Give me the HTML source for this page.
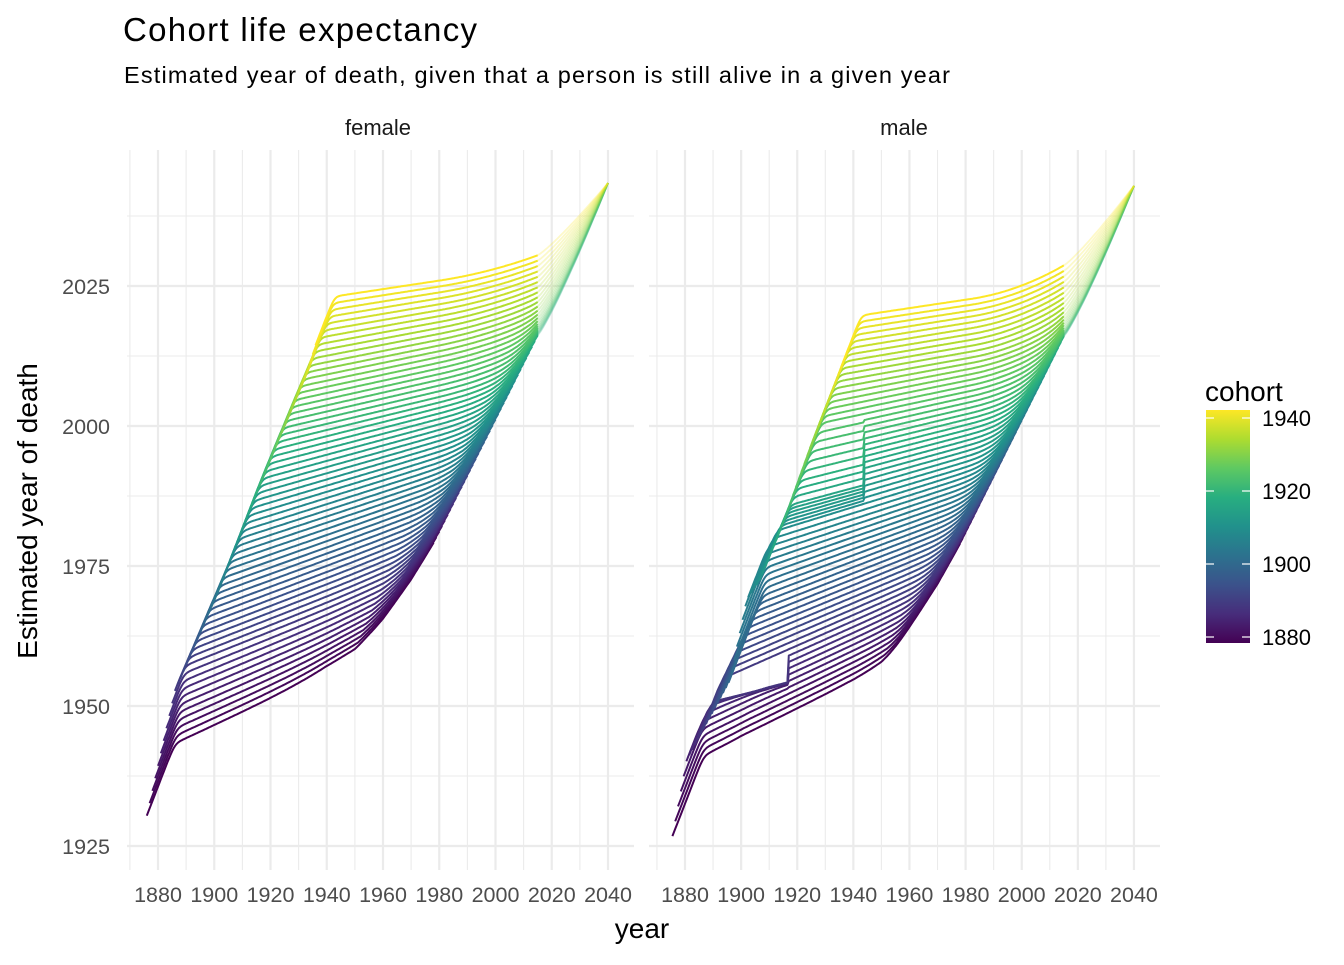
<!DOCTYPE html>
<html><head><meta charset="utf-8">
<style>
html,body{margin:0;padding:0;background:#fff;}
svg text{font-family:"Liberation Sans",Arial,sans-serif;}
</style></head>
<body>
<svg id="chart" width="1344" height="960" viewBox="0 0 1344 960" xmlns="http://www.w3.org/2000/svg">
  <rect width="1344" height="960" fill="#fff"/>
  <text x="123" y="41" font-size="33" fill="#000" textLength="354">Cohort life expectancy</text>
  <text x="124" y="83" font-size="23.5" fill="#000" textLength="826">Estimated year of death, given that a person is still alive in a given year</text>
  <text x="378" y="135" font-size="22" fill="#1a1a1a" text-anchor="middle">female</text>
  <text x="904" y="135" font-size="22" fill="#1a1a1a" text-anchor="middle">male</text>
  <g id="grid"></g>
  <g id="yticks"></g>
  <g id="xticks"></g>
  <g id="series"></g>
  <text x="642" y="938" font-size="28" fill="#000" text-anchor="middle">year</text>
  <text transform="translate(37,511) rotate(-90)" font-size="28" fill="#000" text-anchor="middle">Estimated year of death</text>
  <g>
    <text x="1205" y="401" font-size="28" fill="#000">cohort</text>
    <defs>
      <linearGradient id="vir" x1="0" y1="1" x2="0" y2="0">
        <stop offset="0" stop-color="#440154"/><stop offset="0.125" stop-color="#472D7B"/>
        <stop offset="0.25" stop-color="#3B528B"/><stop offset="0.375" stop-color="#2C728E"/>
        <stop offset="0.5" stop-color="#21918C"/><stop offset="0.625" stop-color="#28AE80"/>
        <stop offset="0.75" stop-color="#5EC962"/><stop offset="0.875" stop-color="#ADDC30"/>
        <stop offset="1" stop-color="#FDE725"/>
      </linearGradient>
    </defs>
    <rect x="1206" y="410" width="44" height="233" fill="url(#vir)"/>
    <g id="legendticks"></g>
  </g>
</svg>
<script>
// ---- data ----
const cohortFirst = 1880;
const cohortLast = 1940;
const anchorCohorts = [1880, 1890, 1900, 1910, 1920, 1930, 1940];
const femaleLevel = [1956, 1967.5, 1978.5, 1989.5, 2000.5, 2011.5, 2023];   // D at 1941
const femaleSlope = [0.23, 0.2, 0.18, 0.15, 0.12, 0.1, 0.076];
const maleLevel = [1956, 1966.5, 1977, 1987.5, 1998, 2009, 2020];          // D at 1946
const maleSlope = [0.25, 0.22, 0.19, 0.15, 0.12, 0.09, 0.075];
const femaleEdgeYears = [1876, 1886, 1901, 1912.7, 1922.3, 1933, 1941.2];
const femaleEdgeDeath = [1930.4, 1952.7, 1970, 1985.2, 1996.8, 2009.5, 2022.9];
const maleEdgeYears = [1875.4, 1880.6, 1896, 1902, 1906.7, 1915, 1924.5, 1934, 1941.8];
const maleEdgeDeath = [1926.4, 1940.4, 1954.6, 1969, 1972.5, 1982.7, 1996, 2008.2, 2019.2];
const remainAges = [0, 20, 40, 50, 60, 70, 80, 90, 100];
const femaleRemain = [45, 40, 28, 22, 16, 9.5, 5.5, 2.6, 0.8];
const maleRemain = [45, 40, 24, 17, 11, 6.2, 4, 1.8, 0.8];
const femaleAccel = [1980, 0.0015];
const maleAccel = [1982, 0.0032];
const ww1Cohorts = [1883, 1889];
const ww1End = 1917;
const ww1Cap = 1952;
const ww2Cohorts = [1909, 1912, 1915, 1918, 1921, 1924];
const ww2Shock = [0, 1.5, 3, 2.5, 1.2, 0];
const ww2End = 1944;
const femaleProjEnd = [2040, 2043.4];
const maleProjEnd = [2040, 2042.9];
const yTicks = [1925, 1950, 1975, 2000, 2025];
const xTicks = [1880, 1900, 1920, 1940, 1960, 1980, 2000, 2020, 2040];
const legendTicks = [1880, 1900, 1920, 1940];

// ---- scales ----
const panels = [
  {sex:'female', x0:127, x1:634, ax:158, k:2.8125, level:femaleLevel, slope:femaleSlope, ref:1941,
   ey:femaleEdgeYears, ed:femaleEdgeDeath, rem:femaleRemain, acc:femaleAccel, proj:femaleProjEnd, sOff:4},
  {sex:'male', x0:649, x1:1160, ax:685, k:2.806, level:maleLevel, slope:maleSlope, ref:1946,
   ey:maleEdgeYears, ed:maleEdgeDeath, rem:maleRemain, acc:maleAccel, proj:maleProjEnd, sOff:4.5}
];
const PT = 150, PB = 870;
function yScale(d){ return 286 + (2025 - d) * 5.6; }
function interp(xs, ys, x){
  if (x <= xs[0]) return ys[0] + (x - xs[0]) * ((ys[1]-ys[0])/(xs[1]-xs[0]));
  for (let i = 1; i < xs.length; i++) if (x <= xs[i]) return ys[i-1] + (ys[i]-ys[i-1]) * (x - xs[i-1]) / (xs[i]-xs[i-1]);
  const n = xs.length;
  return ys[n-1] + (x - xs[n-1]) * 1.3;
}
function clampInterp(xs, ys, x){
  if (x <= xs[0]) return ys[0];
  if (x >= xs[xs.length-1]) return ys[ys.length-1];
  return interp(xs, ys, x);
}
function softmin(a,b,k){ const m=Math.min(a,b); return m - k*Math.log(Math.exp(-(a-m)/k)+Math.exp(-(b-m)/k)); }
function softmax(a,b,k){ const m=Math.max(a,b); return m + k*Math.log(Math.exp((a-m)/k)+Math.exp((b-m)/k)); }

const vir = ['#440154','#472D7B','#3B528B','#2C728E','#21918C','#28AE80','#5EC962','#ADDC30','#FDE725'];
function hex(h){ return [parseInt(h.substr(1,2),16),parseInt(h.substr(3,2),16),parseInt(h.substr(5,2),16)]; }
function viridis(f){
  f = Math.max(0, Math.min(1, f)); const p = f*(vir.length-1); const i = Math.min(vir.length-2, Math.floor(p)); const r = p-i;
  const a = hex(vir[i]), b = hex(vir[i+1]);
  return 'rgb(' + a.map((v,j)=>Math.round(v+(b[j]-v)*r)).join(',') + ')';
}

const NS = 'http://www.w3.org/2000/svg';
function mk(tag, attrs, parent){ const e = document.createElementNS(NS, tag); for (const a in attrs) e.setAttribute(a, attrs[a]); parent.appendChild(e); return e; }

// ---- grid & axes ----
const grid = document.getElementById('grid');
const yt = document.getElementById('yticks');
const xt = document.getElementById('xticks');
panels.forEach(P => {
  const xs = yr => P.ax + (yr - 1880) * P.k;
  for (let yr = 1870; yr <= 2050; yr += 10) {
    const x = xs(yr); if (x < P.x0 || x > P.x1) continue;
    const l = mk('line', {x1:x, x2:x, y1:PT, y2:PB, stroke:'#ebebeb', 'stroke-width': yr % 20 === 0 ? 2.2 : 1.1}, grid);
    
    
  }
  for (let d = 1912.5; d <= 2050; d += 12.5) {
    const y = yScale(d); if (y < PT || y > PB) continue;
    const l = mk('line', {x1:P.x0, x2:P.x1, y1:y, y2:y, stroke:'#ebebeb', 'stroke-width': (d % 25 === 0) ? 2.2 : 1.1}, grid);
    
    
  }
  xTicks.forEach(v => {
    const t = mk('text', {x:xs(v), y:902, 'font-size':21.5, fill:'#4d4d4d', 'text-anchor':'middle'}, xt);
    t.textContent = v;
    
    
  });
});
yTicks.forEach(v => {
  const t = mk('text', {x:110, y:yScale(v)+8, 'font-size':21.5, fill:'#4d4d4d', 'text-anchor':'end'}, yt);
  t.textContent = v;
  
  
});
const lt = document.getElementById('legendticks');
legendTicks.forEach(v => {
  const y = 637 - (v - 1880) * 73/20;
  const a = mk('line', {x1:1206, x2:1214, y1:y, y2:y, stroke:'#fff', 'stroke-width':1.2}, lt);
  
  
  const b = mk('line', {x1:1242, x2:1250, y1:y, y2:y, stroke:'#fff', 'stroke-width':1.2}, lt);
  
  
  const t = mk('text', {x:1262, y:y+8, 'font-size':22, fill:'#000'}, lt);
  t.textContent = v;
  
  
});

// ---- series ----
const series = document.getElementById('series');
panels.forEach(P => {
  const xs = yr => P.ax + (yr - 1880) * P.k;
  const g = mk('g', {}, series);
  
  
  function deathYear(c, t){
    const L = clampInterp(anchorCohorts, P.level, c);
    const sl = clampInterp(anchorCohorts, P.slope, c);
    const s = c - P.sOff;
    const rise = interp(P.ey, P.ed, s) + 1.3 * (t - s);
    let flat = L + sl * (t - P.ref) + P.acc[1] * Math.pow(Math.max(0, t - P.acc[0]), 2);
    if (P.sex === 'male') {
      if (c >= ww1Cohorts[0] && c <= ww1Cohorts[1] && t < ww1End) flat = softmin(flat, ww1Cap + 0.12*(t-1900), 0.6);
      if (t < ww2End) flat -= clampInterp(ww2Cohorts, ww2Shock, c);
    }
    const base = softmin(rise, flat, 0.8);
    return softmax(base, t + interp(remainAges, P.rem, t - c), 1.8);
  }
  for (let c = cohortFirst; c <= cohortLast; c++) {
    const col = viridis((c - cohortFirst) / (cohortLast - cohortFirst));
    const s = c - P.sOff;
    const end = Math.min(c + 98, 2015);
    const pts = [];
    for (let t = s; t <= end + 1e-9; t += 0.5) pts.push([t, deathYear(c, t)]);
    const d = pts.map((p,i)=>(i?'L':'M') + xs(p[0]).toFixed(1) + ',' + yScale(p[1]).toFixed(1)).join('');
    const path = mk('path', {d:d, fill:'none', stroke:col, 'stroke-width':2, 'stroke-linejoin':'round'}, g);
    
    
    if (c + 98 >= 2015) {
      const d0 = pts[pts.length-1][1];
      const pp = [];
      for (let t = 2015; t <= P.proj[0] + 1e-9; t += 1) {
        const f = Math.pow((t - 2015) / (P.proj[0] - 2015), 1.15);
        pp.push([t, d0 + (P.proj[1] - d0) * f]);
      }
      const dp = pp.map((p,i)=>(i?'L':'M') + xs(p[0]).toFixed(1) + ',' + yScale(p[1]).toFixed(1)).join('');
      const pr = mk('path', {d:dp, fill:'none', stroke:col, 'stroke-width':1.8, 'stroke-opacity':0.25}, g);
      
      
    }
  }
});
</script>
</body></html>
